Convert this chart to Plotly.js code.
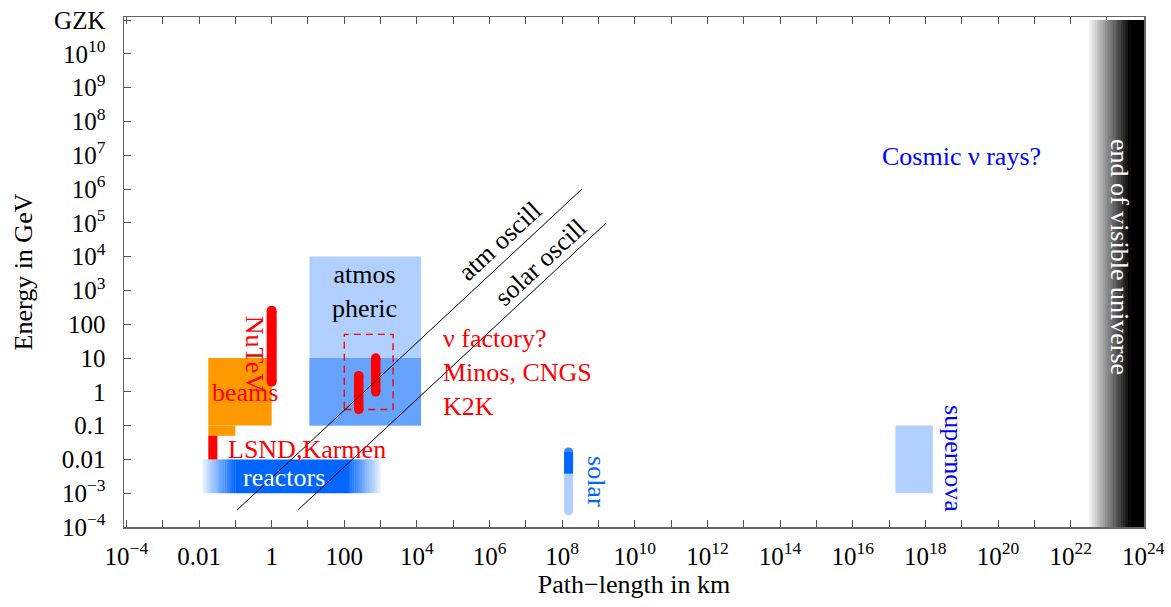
<!DOCTYPE html>
<html><head><meta charset="utf-8">
<script src="https://cdn.plot.ly/plotly-3.0.1.min.js"></script>
<style>html,body{margin:0;padding:0;background:#fff}</style>
</head><body>
<div id="chart" style="width:1171px;height:607px"></div>
<script>
// ---------- data (path length in km, energy in GeV) ----------
const xLabelValues = [1e-4,1e-2,1,100,1e4,1e6,1e8,1e10,1e12,1e14,1e16,1e18,1e20,1e22,1e24];
const xLabels = ["10<sup>−4</sup>","0.01","1","100","10<sup>4</sup>","10<sup>6</sup>","10<sup>8</sup>","10<sup>10</sup>","10<sup>12</sup>","10<sup>14</sup>","10<sup>16</sup>","10<sup>18</sup>","10<sup>20</sup>","10<sup>22</sup>","10<sup>24</sup>"];
const xMinorValues = [1e-3,1e-1,10,1e3,1e5,1e7,1e9,1e11,1e13,1e15,1e17,1e19,1e21,1e23];
const yTickValues = [1e-4,1e-3,1e-2,1e-1,1,10,100,1e3,1e4,1e5,1e6,1e7,1e8,1e9,1e10,1e11];
const yTickLabels = ["10<sup>−4</sup>","10<sup>−3</sup>","0.01","0.1","1","10","100","10<sup>3</sup>","10<sup>4</sup>","10<sup>5</sup>","10<sup>6</sup>","10<sup>7</sup>","10<sup>8</sup>","10<sup>9</sup>","10<sup>10</sup>","GZK"];

const reactorL = [0.0125, 1000];
const reactorCoreL = [0.1, 120];
const reactorE = [0.001, 0.01];
const beamsL = [0.018, 1];
const beamsE = [0.1, 10];
const beamsLowL = [0.018, 0.1];
const beamsLowE = [0.05, 0.1];
const lsndL = [0.018, 0.032];
const lsndE = [0.01, 0.05];
const atmosL = [11, 13000];
const atmosE = [0.1, 1e4];
const atmosLowE = [0.1, 10];
const factoryL = [100, 2200];
const factoryE = [0.3, 50];
const nutevL = [1, 1];
const nutevE = [2, 250];
const k2kL = [250, 250];
const k2kE = [0.3, 3];
const minosL = [735, 735];
const minosE = [1, 10];
const solarL = [1.5e8, 1.5e8];
const solarE = [3e-4, 0.0166];
const solarHighE = [0.0038, 0.0166];
const supernovaL = [1.5e17, 1.6e18];
const supernovaE = [0.001, 0.1];
const atmOscL = [0.11, 3.5e8];
const atmOscE = [3.14e-4, 1e6];
const solOscL = [5.4, 1.6e9];
const solOscE = [3.25e-4, 9.7e4];
const universeL = [3.3e22, 4.5e23, 1.05e24];   // fade start, fully black, end
const universeE = [1e-4, 1e11];

// ---------- colours ----------
const RED = 'rgb(255,0,0)';
const ORANGE = 'rgb(255,153,0)';
const LIGHTBLUE = 'rgb(178,208,255)';
const MIDBLUE = 'rgb(102,163,255)';
const DEEPBLUE = 'rgb(0,102,255)';
const BLUE = 'rgb(0,0,255)';
const FONT = '"Liberation Serif", "Times New Roman", Times, serif';

// ---------- helpers ----------
function rect(x, y, color, layer) {
  return {type:'rect', xref:'x', yref:'y', x0:x[0], x1:x[1], y0:y[0], y1:y[1],
          fillcolor:color, line:{width:0}, layer:layer || 'below'};
}
function mix(c1, c2, t) {
  return 'rgb(' + c1.map((v,i) => Math.round(v*(1-t) + c2[i]*t)).join(',') + ')';
}
// colour ramp drawn as thin overlapping strips spaced evenly on the log axis
function gradientStrips(xa, xb, y, cFrom, cTo, n, layer, t0) {
  const out = [];
  const la = Math.log10(xa), lb = Math.log10(xb);
  for (let i = 0; i < n; i++) {
    const s0 = la + (lb - la) * i / n, s1 = la + (lb - la) * (i + 1.2) / n;
    const t = t0 + (1 - t0) * (i + 0.5) / n;
    out.push(rect([Math.pow(10, s0), Math.pow(10, s1)], y, mix(cFrom, cTo, t), layer));
  }
  return out;
}

const shapes = [];
// reactors (blue band fading at both ends)
shapes.push(rect(reactorCoreL, reactorE, DEEPBLUE));
shapes.push(...gradientStrips(reactorL[0], reactorCoreL[0], reactorE, [255,255,255], [0,102,255], 18, 'below', 0.08));
shapes.push(...gradientStrips(reactorL[1], reactorCoreL[1], reactorE, [255,255,255], [0,102,255], 18, 'below', 0.08));
// beams + LSND
shapes.push(rect(beamsL, beamsE, ORANGE));
shapes.push(rect(beamsLowL, beamsLowE, ORANGE));
shapes.push(rect(lsndL, lsndE, RED));
// atmospheric
shapes.push(rect(atmosL, atmosE, LIGHTBLUE));
shapes.push(rect(atmosL, atmosLowE, MIDBLUE));
// neutrino factory dashed box
shapes.push({type:'rect', xref:'x', yref:'y', x0:factoryL[0], x1:factoryL[1], y0:factoryE[0], y1:factoryE[1],
             fillcolor:'rgba(0,0,0,0)', line:{color:RED, width:1.4, dash:'7px,5px'}, layer:'below'});
// supernova
shapes.push(rect(supernovaL, supernovaE, LIGHTBLUE));
// end of visible universe: black slab with a grey ramp on its left edge
shapes.push(rect([universeL[1] / 1.3, universeL[2]], universeE, 'rgb(0,0,0)', 'above'));
shapes.push(...gradientStrips(universeL[0], universeL[1], universeE, [245,245,245], [0,0,0], 16, 'above', 0.0));

// ---------- traces ----------
function bar(x, y, color, w, sizes) {
  return {type:'scatter', mode:'lines+markers', x:x, y:y, hoverinfo:'skip', showlegend:false,
          line:{color:color, width:w}, marker:{color:color, size:sizes || w, line:{width:0}}};
}
function thin(x, y) {
  return {type:'scatter', mode:'lines', x:x, y:y, hoverinfo:'skip', showlegend:false,
          line:{color:'#000', width:1}};
}
const traces = [
  bar(nutevL, nutevE, RED, 10),
  bar(k2kL, k2kE, RED, 9.5),
  bar(minosL, minosE, RED, 9.5),
  bar(solarL, solarE, LIGHTBLUE, 9),
  bar(solarL, solarHighE, DEEPBLUE, 9, [0, 9]),
  thin(atmOscL, atmOscE),
  thin(solOscL, solOscE)
];

// ---------- labels ----------
function lab(text, lx, ly, color, opts) {
  return Object.assign({xref:'x', yref:'y', x:lx, y:ly, text:text, showarrow:false,
    font:{family:FONT, size:26, color:color}}, opts || {});
}
const annotations = [
  lab('end of visible universe', 23.35, 4.0, '#fff', {textangle:90}),
  lab('Cosmic ν rays?', 19.0, 6.95, BLUE),
  lab('supernova', 18.77, -1.97, BLUE, {textangle:90}),
  lab('solar', 8.95, -2.66, DEEPBLUE, {textangle:90}),
  lab('reactors', 0.33, -2.53, '#fff'),
  lab('LSND,Karmen', -1.25, -1.71, RED, {xanchor:'left'}),
  lab('beams', -0.744, -0.03, RED),
  lab('NuTeV', -0.45, 1.115, RED, {textangle:90}),
  lab('atmos<br>pheric', 2.56, 2.96, '#000'),
  lab('ν factory?<br>Minos, CNGS<br>K2K', 4.65, 0.56, RED, {xanchor:'left', align:'left'}),
  lab('atm oscill', 6.275, 4.45, '#000', {textangle:-42.9}),
  lab('solar oscill', 7.4, 3.82, '#000', {textangle:-42.9})
];

const axisCommon = {
  type:'log', tickmode:'array', ticks:'inside', ticklen:7, tickwidth:1, tickcolor:'#555',
  showline:true, linecolor:'#666', linewidth:1.5, mirror:'ticks',
  showgrid:false, zeroline:false, automargin:false,
  tickfont:{family:FONT, size:25, color:'#000'}
};
const layout = {
  width:1171, height:607,
  margin:{l:124, r:27, t:17, b:80},
  paper_bgcolor:'#fff', plot_bgcolor:'#fff',
  showlegend:false,
  font:{family:FONT, size:25, color:'#000'},
  xaxis:Object.assign({}, axisCommon, {range:[-4.066, 24.02], tickvals:xLabelValues, ticktext:xLabels,
    minor:{tickmode:'array', tickvals:xMinorValues, ticks:'inside', ticklen:7, tickwidth:1, tickcolor:'#555', showgrid:false},
    ticklabelstandoff:6,
    title:{text:'Path−length in km', font:{family:FONT, size:26, color:'#000'}, standoff:6}}),
  yaxis:Object.assign({}, axisCommon, {range:[-4, 11.09], tickvals:yTickValues, ticktext:yTickLabels,
    ticklabelstandoff:12,
    title:{text:'Energy in GeV', font:{family:FONT, size:26, color:'#000'}, standoff:14}}),
  shapes:shapes,
  annotations:annotations
};
Plotly.newPlot('chart', traces, layout, {displayModeBar:false, staticPlot:true});
</script>
</body></html>
